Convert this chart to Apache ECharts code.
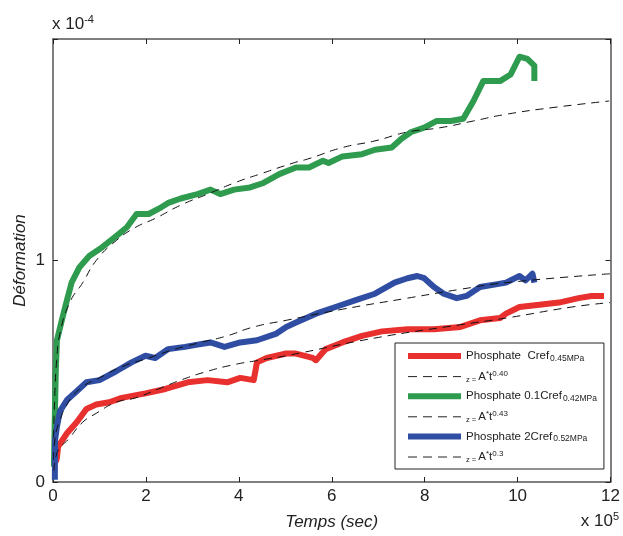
<!DOCTYPE html>
<html><head><meta charset="utf-8">
<script src="https://cdn.jsdelivr.net/npm/echarts@6/dist/echarts.min.js"></script>
<style>html,body{margin:0;padding:0;background:#fff}#c{width:623px;height:536px}</style>
</head><body><div id="c"></div>
<script>
// Time in units of 1e5 s, deformation in units of 1e-4
var xTicks = [0, 2, 4, 6, 8, 10, 12];
var yTicks = [0, 1];

var redT = [0.06,0.085,0.11,0.30,0.51,0.72,0.93,1.21,1.48,1.99,2.42,2.90,3.33,3.75,4.03,4.32,4.39,4.60,5.02,5.23,5.59,5.66,5.87,6.23,6.65,7.08,7.63,8.20,8.77,9.19,9.62,9.75,10.04,10.47,10.89,11.31,11.59,11.86];
var redV = [0.09,0.11,0.16,0.22,0.27,0.33,0.35,0.36,0.38,0.40,0.42,0.45,0.46,0.45,0.47,0.46,0.54,0.56,0.58,0.58,0.56,0.55,0.60,0.63,0.66,0.68,0.69,0.69,0.70,0.73,0.74,0.76,0.79,0.80,0.81,0.83,0.84,0.84];

var redFitT = [0.02,0.085,0.36,0.64,0.93,1.36,1.78,2.27,2.75,3.33,3.90,4.45,5.02,6.93,8.77,9.75,11.17,11.99];
var redFitV = [0.05,0.13,0.20,0.27,0.31,0.36,0.38,0.42,0.46,0.50,0.53,0.55,0.57,0.65,0.71,0.74,0.79,0.81];

var greenT = [0.02,0.04,0.06,0.085,0.19,0.30,0.40,0.57,0.78,1.06,1.36,1.59,1.80,2.06,2.33,2.48,2.75,3.11,3.39,3.60,3.90,4.24,4.53,4.87,5.23,5.51,5.81,5.93,6.23,6.65,6.93,7.29,7.50,7.71,7.99,8.26,8.56,8.83,9.05,9.26,9.62,9.85,10.04,10.21,10.36,10.36];
var greenV = [0.07,0.30,0.50,0.64,0.73,0.82,0.90,0.97,1.02,1.06,1.11,1.15,1.21,1.21,1.24,1.26,1.28,1.30,1.32,1.30,1.32,1.33,1.35,1.39,1.42,1.42,1.45,1.44,1.47,1.48,1.50,1.51,1.55,1.58,1.60,1.63,1.63,1.64,1.72,1.81,1.81,1.84,1.92,1.91,1.88,1.81];

var greenFitT = [0.01,0.04,0.08,0.15,0.36,0.64,0.93,1.36,1.78,2.20,2.75,3.33,3.90,4.45,5.17,5.51,6.23,6.93,7.63,8.35,9.05,9.75,10.74,11.97];
var greenFitV = [0.20,0.40,0.55,0.67,0.81,0.90,1.00,1.09,1.15,1.19,1.25,1.30,1.35,1.39,1.44,1.46,1.51,1.54,1.58,1.60,1.63,1.66,1.69,1.72];

var blueT = [0.04,0.04,0.045,0.085,0.15,0.30,0.51,0.72,1.00,1.36,1.69,1.99,2.20,2.48,2.84,3.11,3.39,3.69,4.03,4.39,4.81,5.02,5.23,5.66,6.08,6.50,6.93,7.35,7.63,7.84,7.99,8.20,8.41,8.69,8.90,9.19,9.47,9.75,10.04,10.17,10.32,10.36];
var blueV = [0.01,0.04,0.19,0.25,0.32,0.37,0.41,0.45,0.46,0.50,0.54,0.57,0.56,0.60,0.61,0.62,0.63,0.61,0.63,0.64,0.67,0.70,0.72,0.76,0.79,0.82,0.85,0.90,0.92,0.93,0.92,0.88,0.85,0.83,0.84,0.88,0.89,0.90,0.93,0.91,0.94,0.90];

var blueFitT = [0.01,0.04,0.15,0.36,0.64,1.00,1.48,2.06,2.63,3.18,3.75,4.32,5.02,6.23,7.63,8.77,9.75,11.99];
var blueFitV = [0.10,0.19,0.28,0.37,0.43,0.47,0.52,0.56,0.60,0.63,0.66,0.70,0.73,0.78,0.83,0.87,0.90,0.94];

var legendLabels = {
  r: '{m|Phosphate  Cref}{s|0.45MPa}',
  rf: '{z|z = }{a|A}{p|*}{a|t}{p|0.40}',
  g: '{m|Phosphate 0.1Cref}{s|0.42MPa}',
  gf: '{z|z = }{a|A}{p|*}{a|t}{p|0.43}',
  b: '{m|Phosphate 2Cref}{s|0.52MPa}',
  bf: '{z|z = }{a|A}{p|*}{a|t}{p|0.3}'
};

function pairs(t, v) { return t.map(function (x, i) { return [x, v[i]]; }); }

var RED = '#e8302f', GREEN = '#2e9b4e', BLUE = '#2f4ea3';
var FONT = 'Liberation Sans';

function solid(name, t, v, color) {
  return { name: name, type: 'line', data: pairs(t, v), symbol: 'none', showSymbol: false,
    lineStyle: { color: color, width: 6, join: 'round' }, itemStyle: { color: color }, z: 2 };
}
function dashed(name, t, v) {
  return { name: name, type: 'line', data: pairs(t, v), symbol: 'none', showSymbol: false, smooth: true,
    lineStyle: { color: '#111', width: 1, type: [8, 6] }, itemStyle: { color: '#111' }, z: 5 };
}
function ticks() { return { show: true, inside: true, length: 5, lineStyle: { color: '#222', width: 1 } }; }
function axLine() { return { show: true, onZero: false, lineStyle: { color: '#555', width: 1.5 } }; }

var chart = echarts.init(document.getElementById('c'), null, { renderer: 'canvas' });
chart.setOption({
  animation: false,
  backgroundColor: '#fff',
  grid: { left: 53, right: 4, top: 39, bottom: 54, containLabel: false },
  xAxis: [{
    type: 'value', min: 0, max: 12, interval: 2, position: 'bottom',
    name: 'Temps (sec)', nameLocation: 'middle', nameGap: 31.5, nameMoveOverlap: false,
    nameTextStyle: { fontFamily: FONT, fontStyle: 'italic', fontSize: 17, color: '#222' },
    axisLine: axLine(), axisTick: ticks(),
    axisLabel: { fontFamily: FONT, fontSize: 17, color: '#222', margin: 6,
      formatter: function (v) { return xTicks.indexOf(v) >= 0 ? String(v) : ''; } },
    splitLine: { show: false }
  }, {
    type: 'value', min: 0, max: 12, interval: 2, position: 'top',
    axisLine: axLine(), axisTick: ticks(),
    axisLabel: { show: false }, splitLine: { show: false }
  }],
  yAxis: [{
    type: 'value', min: 0, max: 2, interval: 1, position: 'left',
    name: 'Déformation', nameLocation: 'middle', nameGap: 24.5, nameMoveOverlap: false,
    nameTextStyle: { fontFamily: FONT, fontStyle: 'italic', fontSize: 17, color: '#222' },
    axisLine: axLine(), axisTick: ticks(),
    axisLabel: { fontFamily: FONT, fontSize: 17, color: '#222', margin: 8,
      formatter: function (v) { return yTicks.indexOf(v) >= 0 ? String(v) : ''; } },
    splitLine: { show: false }
  }, {
    type: 'value', min: 0, max: 2, interval: 1, position: 'right',
    axisLine: axLine(), axisTick: ticks(),
    axisLabel: { show: false }, splitLine: { show: false }
  }],
  legend: {
    orient: 'vertical', left: 395, top: 343,
    padding: [7, 7, 5, 10], itemGap: 6.6, itemWidth: 53, itemHeight: 12,
    backgroundColor: '#fff', borderColor: '#222', borderWidth: 1,
    itemStyle: { opacity: 0 },
    data: [
      { name: 'r', lineStyle: { width: 6, color: RED } },
      { name: 'rf', lineStyle: { width: 1, color: '#222', type: [9, 6] } },
      { name: 'g', lineStyle: { width: 6, color: GREEN } },
      { name: 'gf', lineStyle: { width: 1, color: '#222', type: [9, 6] } },
      { name: 'b', lineStyle: { width: 6, color: BLUE } },
      { name: 'bf', lineStyle: { width: 1, color: '#222', type: [9, 6] } }
    ],
    formatter: function (n) { return legendLabels[n]; },
    textStyle: {
      fontFamily: FONT, color: '#222',
      rich: {
        m: { fontSize: 11.5, fontFamily: FONT, color: '#222', lineHeight: 14 },
        s: { fontSize: 8.5, fontFamily: FONT, color: '#222', lineHeight: 6, verticalAlign: 'bottom', padding: [0, 0, 0, 1] },
        z: { fontSize: 7.5, fontFamily: FONT, color: '#222', lineHeight: 8, verticalAlign: 'bottom' },
        a: { fontSize: 11.5, fontFamily: FONT, color: '#222', lineHeight: 14 },
        p: { fontSize: 8, fontFamily: FONT, color: '#222', lineHeight: 6, verticalAlign: 'top' }
      }
    }
  },
  graphic: [
    { type: 'text', left: 52, top: 14, style: {
      text: '{b|x 10}{e|-4}', fontFamily: FONT,
      rich: { b: { fontSize: 17, fontFamily: FONT, fill: '#222' },
              e: { fontSize: 11, fontFamily: FONT, fill: '#222', padding: [0, 0, 10, 0] } } } },
    { type: 'text', right: 4, top: 511, style: {
      text: '{b|x 10}{e|5}', fontFamily: FONT,
      rich: { b: { fontSize: 17, fontFamily: FONT, fill: '#222' },
              e: { fontSize: 11, fontFamily: FONT, fill: '#222', padding: [0, 0, 10, 0] } } } }
  ],
  series: [
    solid('r', redT, redV, RED),
    dashed('rf', redFitT, redFitV),
    solid('g', greenT, greenV, GREEN),
    dashed('gf', greenFitT, greenFitV),
    solid('b', blueT, blueV, BLUE),
    dashed('bf', blueFitT, blueFitV)
  ]
});
</script></body></html>
